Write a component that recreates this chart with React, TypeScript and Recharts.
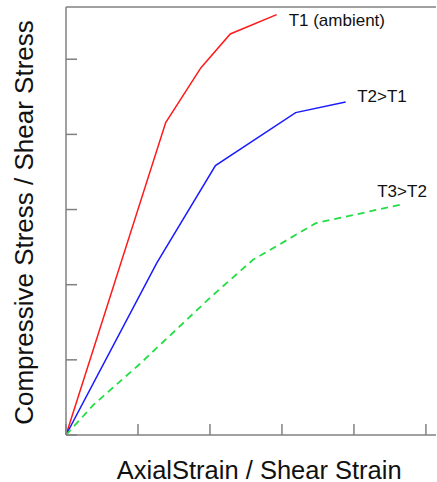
import React from 'react';
import { LineChart, Line, XAxis, YAxis, ReferenceLine } from 'recharts';

const xTicks = [0, 1, 2, 3, 4, 5];
const yTicks = [0, 1, 2, 3, 4, 5];
const xMax = 5.14;
const yMax = 5.695;

const t1Strain = [0, 1.385, 1.875, 2.282, 2.926];
const t1Stress = [0, 4.157, 4.888, 5.336, 5.593];
const t2Strain = [0, 1.26, 2.076, 3.19, 3.885];
const t2Stress = [0, 2.287, 3.585, 4.29, 4.432];
const t3Strain = [0, 0.38, 1.028, 2.0, 2.597, 3.472, 4.639];
const t3Stress = [0, 0.4, 0.948, 1.826, 2.331, 2.819, 3.063];

const seriesNames = ['T1 (ambient)', 'T2>T1', 'T3>T2'];
const xTitle = 'AxialStrain / Shear Strain';
const yTitle = 'Compressive Stress / Shear Stress';

const build = (xs: number[], ys: number[]) => xs.map((x, i) => ({ x, y: ys[i] }));
const t1Data = build(t1Strain, t1Stress);
const t2Data = build(t2Strain, t2Stress);
const t3Data = build(t3Strain, t3Stress);

const FONT = '"Liberation Sans", Arial, sans-serif';
const AXIS = '#808080';

const EmptyTick = () => <g />;

const endLabel = (text: string, lastIndex: number, dx: number, dy: number) => (props: any) => {
  const { x, y, index } = props;
  if (index !== lastIndex) return null;
  return (
    <text x={x + dx} y={y + dy} fontFamily={FONT} fontSize={17} fill="#111">
      {text}
    </text>
  );
};

export default function App() {
  return (
    <div style={{ position: 'absolute', left: 0, top: 0, width: 437, height: 482, background: '#fff' }}>
      <LineChart width={437} height={482} margin={{ top: 7, right: 1, bottom: 47, left: 66 }}>
        <XAxis
          type="number"
          dataKey="x"
          domain={[0, xMax]}
          ticks={xTicks}
          allowDataOverflow
          mirror
          tick={EmptyTick}
          tickSize={11}
          height={20}
          axisLine={{ stroke: AXIS, strokeWidth: 1.5 }}
          tickLine={{ stroke: AXIS, strokeWidth: 1.5 }}
        />
        <YAxis
          type="number"
          dataKey="y"
          domain={[0, yMax]}
          ticks={yTicks}
          allowDataOverflow
          mirror
          tick={EmptyTick}
          tickSize={11}
          width={20}
          axisLine={{ stroke: AXIS, strokeWidth: 1.5 }}
          tickLine={{ stroke: AXIS, strokeWidth: 1.5 }}
        />
        <ReferenceLine y={yMax} stroke={AXIS} strokeWidth={1.5} />
        <Line
          data={t1Data}
          dataKey="y"
          stroke="#ff1a1a"
          strokeWidth={1.5}
          dot={false}
          isAnimationActive={false}
          label={endLabel(seriesNames[0], t1Data.length - 1, 12, 11)}
        />
        <Line
          data={t2Data}
          dataKey="y"
          stroke="#1a1aff"
          strokeWidth={1.5}
          dot={false}
          isAnimationActive={false}
          label={endLabel(seriesNames[1], t2Data.length - 1, 11.5, 0.5)}
        />
        <Line
          data={t3Data}
          dataKey="y"
          stroke="#22dd44"
          strokeWidth={1.8}
          strokeDasharray="7 5"
          dot={false}
          isAnimationActive={false}
          label={endLabel(seriesNames[2], t3Data.length - 1, -22.7, -8.3)}
        />
      </LineChart>
      <svg
        width={437}
        height={482}
        style={{ position: 'absolute', left: 0, top: 0, pointerEvents: 'none' }}
      >
        <text x={259.2} y={478.5} textAnchor="middle" fontFamily={FONT} fontSize={25.5} fill="#111">
          {xTitle}
        </text>
        <text
          x={0}
          y={0}
          transform="translate(33.3,222.5) rotate(-90)"
          textAnchor="middle"
          fontFamily={FONT}
          fontSize={26}
          fill="#111"
        >
          {yTitle}
        </text>
      </svg>
    </div>
  );
}
